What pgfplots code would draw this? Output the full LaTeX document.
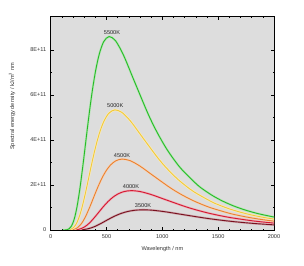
\documentclass[border=0pt]{standalone}
\usepackage{pgfplots}
\pgfplotsset{compat=1.18}
\usepackage{pgfplotstable}
\usepackage{fontspec}
\setmainfont{Liberation Sans}
\definecolor{bg}{RGB}{221,221,221}
\definecolor{cA}{RGB}{40,185,40}
\definecolor{cB}{RGB}{240,200,60}
\definecolor{cC}{RGB}{232,130,50}
\definecolor{cD}{RGB}{210,25,50}
\definecolor{cE}{RGB}{120,15,30}

\pgfplotstableread{
x y
109.0 0.000122
118.9 0.000583
130.8 0.002676
145.3 0.011676
163.5 0.04787
186.9 0.18143
201.2 0.34050
218.0 0.62027
237.8 1.0913
261.6 1.8419
290.7 2.9567
307.8 3.6635
327.0 4.4611
348.8 5.3277
373.7 6.2234
402.5 7.0880
436.0 7.8393
475.6 8.3789
523.2 8.6004
581.3 8.4102
654.0 7.7509
747.4 6.6348
872.0 5.1654
951.3 4.3576
1046.4 3.5430
1162.7 2.7563
1308.0 2.0322
1376.8 1.7668
1453.3 1.5181
1538.8 1.2877
1635.0 1.0763
1744.0 0.8848
1868.6 0.7140
2012.3 0.5643
}\tA

\pgfplotstableread{
x y
119.9 0.0000757
130.8 0.000362
143.9 0.001661
159.9 0.00725
179.9 0.02972
205.5 0.11265
221.4 0.21142
239.8 0.38513
261.6 0.67759
287.8 1.1436
319.7 1.8358
338.5 2.2747
359.7 2.7699
383.7 3.3080
411.1 3.8641
442.7 4.4009
479.6 4.8675
523.2 5.2025
575.5 5.3400
639.5 5.2219
719.4 4.8126
822.2 4.1196
959.2 3.2072
1046.4 2.7057
1151.0 2.1998
1278.9 1.7114
1438.8 1.2618
1514.5 1.0970
1598.7 0.9426
1692.7 0.7995
1798.5 0.6683
1918.4 0.5494
2055.4 0.4433
}\tB

\pgfplotstableread{
x y
133.2 0.0000447
145.3 0.000214
159.9 0.000981
177.6 0.004281
199.8 0.01755
228.4 0.06652
245.9 0.12485
266.4 0.22742
290.7 0.40012
319.7 0.67533
355.3 1.0841
376.2 1.3432
399.7 1.6357
426.3 1.9534
456.8 2.2818
491.9 2.5988
532.9 2.8743
581.3 3.0721
639.5 3.1534
710.5 3.0836
799.3 2.8419
913.5 2.4327
1065.8 1.8939
1162.7 1.5977
1278.9 1.2990
1421.0 1.0106
1598.7 0.7451
1682.8 0.6478
1776.3 0.5566
1880.8 0.4721
1998.3 0.3946
2131.5 0.3244
}\tC

\pgfplotstableread{
x y
149.9 0.0000248
163.5 0.000119
179.9 0.000544
199.8 0.002376
224.8 0.009741
256.9 0.03692
276.7 0.06928
299.8 0.12621
327.0 0.22205
359.7 0.37478
399.7 0.60162
423.2 0.74543
449.6 0.90772
479.6 1.0840
513.9 1.2663
553.4 1.4422
599.5 1.5951
654.0 1.7049
719.4 1.7500
799.3 1.7113
899.3 1.5771
1027.7 1.3500
1199.0 1.0510
1308.0 0.8867
1438.8 0.7209
1598.7 0.5608
1798.5 0.4135
1893.2 0.3595
1998.3 0.3089
2115.9 0.2620
}\tD

\pgfplotstableread{
x y
171.3 0.0000127
186.9 0.0000609
205.5 0.000279
228.4 0.001219
256.9 0.004996
293.6 0.01893
316.2 0.03554
342.6 0.06473
373.7 0.11389
411.1 0.19222
456.8 0.30857
483.6 0.38233
513.9 0.46557
548.1 0.55601
587.3 0.64950
632.4 0.73972
685.2 0.81814
747.4 0.87445
822.2 0.89757
913.5 0.87771
1027.7 0.80891
1174.5 0.69243
1370.3 0.53907
1494.9 0.45477
1644.4 0.36976
1827.1 0.28766
2055.5 0.21208
}\tE

\begin{document}
\begin{tikzpicture}
\path[use as bounding box] (-50.7bp,-36bp) rectangle (253.3bp,230bp);
\begin{axis}[
  at={(0,0)}, anchor=south west,
  scale only axis,
  width=223.3bp, height=213bp,
  xmin=0, xmax=2000, ymin=0, ymax=9.47,
  axis background/.style={fill=bg},
  axis line style={line width=1pt},
  tick style={black, line width=0.5pt},
  major tick length=3bp, minor tick length=1.5bp,
  tick pos=both, tick align=inside,
  xtick={0,500,1000,1500,2000},
  minor x tick num=4,
  ytick={0,2,4,6,8},
  yticklabels={0,2E+11,4E+11,6E+11,8E+11},
  minor y tick num=1,
  /pgf/number format/assume math mode=true,
  /pgf/number format/1000 sep={},
  ticklabel style={font=\fontsize{5.6}{6}\selectfont, text=black!80},
  xticklabel style={yshift=-1.5bp},
  yticklabel style={xshift=-1bp},
  xlabel={Wavelength / nm},
  ylabel={Spectral energy density / kJ/m\textsuperscript{3} nm},
  label style={font=\fontsize{5.6}{6.5}\selectfont, text=black!80},
  xlabel style={at={(axis description cs:0.5,0)}, anchor=north, yshift=-13bp},
  ylabel style={at={(axis description cs:0,0.58)}, anchor=south, yshift=32bp},
  clip=true,
]
\addplot[cE!35, line width=2.2pt, smooth] table {\tE};
\addplot[cE, line width=0.9pt, smooth] table {\tE};
\addplot[cD!35, line width=2.2pt, smooth] table {\tD};
\addplot[cD, line width=0.9pt, smooth] table {\tD};
\addplot[cC!35, line width=2.2pt, smooth] table {\tC};
\addplot[cC, line width=0.9pt, smooth] table {\tC};
\addplot[cB!35, line width=2.2pt, smooth] table {\tB};
\addplot[cB, line width=0.9pt, smooth] table {\tB};
\addplot[cA!35, line width=2.2pt, smooth] table {\tA};
\addplot[cA, line width=0.9pt, smooth] table {\tA};
\node[font=\fontsize{5.6}{6}\selectfont, text=black!85] at (axis cs:549,8.78) {5500K};
\node[font=\fontsize{5.6}{6}\selectfont, text=black!85] at (axis cs:578,5.53) {5000K};
\node[font=\fontsize{5.6}{6}\selectfont, text=black!85] at (axis cs:639,3.32) {4500K};
\node[font=\fontsize{5.6}{6}\selectfont, text=black!85] at (axis cs:719,1.92) {4000K};
\node[font=\fontsize{5.6}{6}\selectfont, text=black!85] at (axis cs:827,1.07) {3500K};
\end{axis}
\end{tikzpicture}
\end{document}
